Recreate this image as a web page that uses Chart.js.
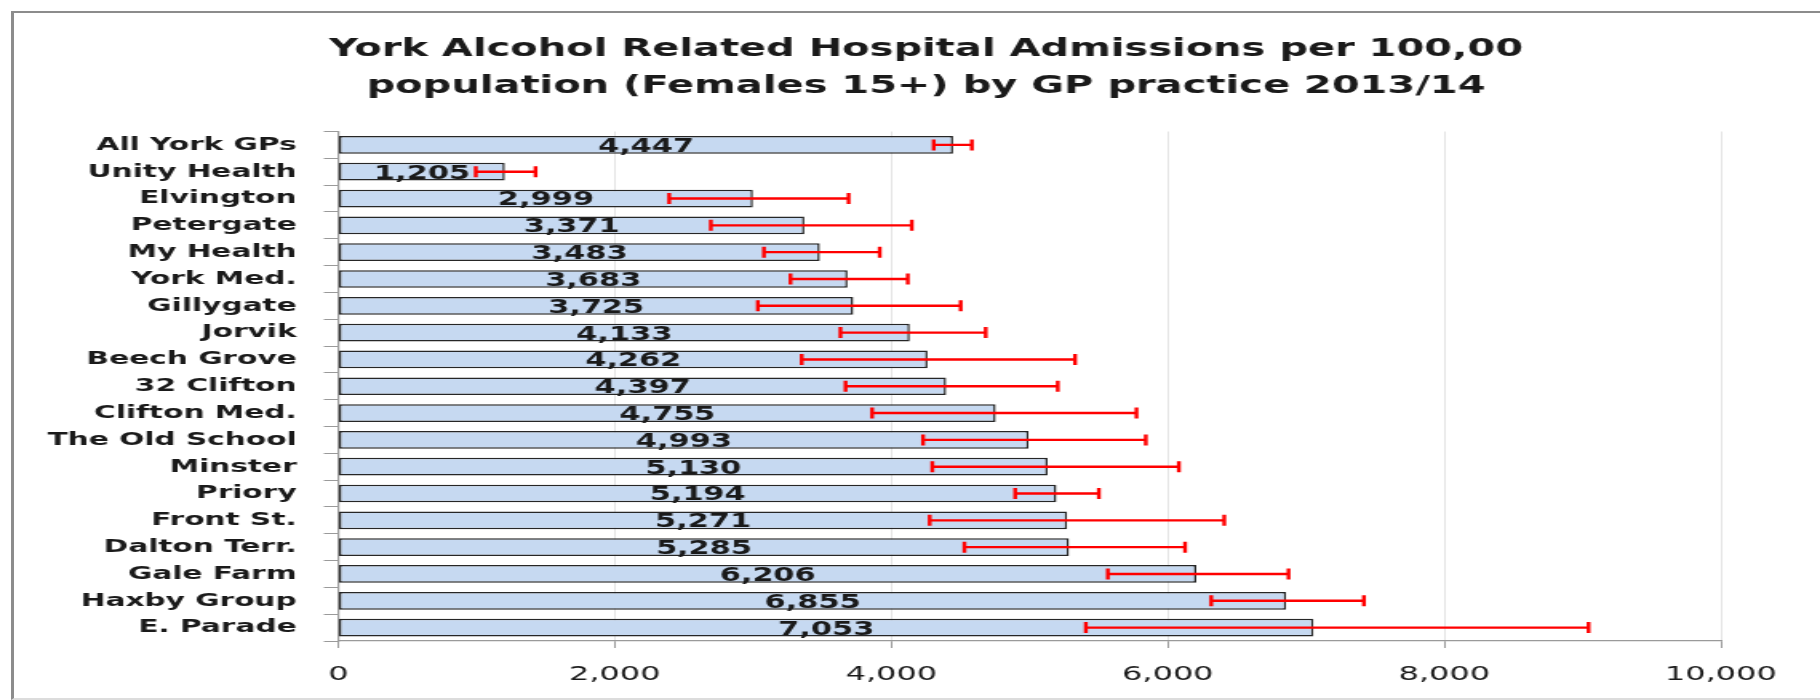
<!DOCTYPE html>
<html>
<head>
<meta charset="utf-8">
<script src="https://cdn.jsdelivr.net/npm/chart.js@4.4.1/dist/chart.umd.min.js"></script>
<style>
  html, body { margin: 0; padding: 0; background: #ffffff; overflow: hidden; width: 1820px; height: 700px; }
  #frame { position: absolute; left: 11px; top: 11px; width: 1900px; height: 685px;
           border-left: 3px solid #8c8c8c; border-top: 2px solid #8c8c8c; border-bottom: 2px solid #dcdcdc; }
  #wrap { position: absolute; left: 0; top: 0; width: 1138px; height: 700px;
          transform: scaleX(1.59930); transform-origin: 0 0; }
</style>
</head>
<body>
<div id="frame"></div>
<div id="wrap"><canvas id="c" width="1138" height="700"></canvas></div>
<script>
const categories = ['All York GPs', 'Unity Health', 'Elvington', 'Petergate', 'My Health', 'York Med.',
  'Gillygate', 'Jorvik', 'Beech Grove', '32 Clifton', 'Clifton Med.', 'The Old School', 'Minster',
  'Priory', 'Front St.', 'Dalton Terr.', 'Gale Farm', 'Haxby Group', 'E. Parade'];
const rates   = [4447, 1205, 2999, 3371, 3483, 3683, 3725, 4133, 4262, 4397, 4755, 4993, 5130, 5194, 5271, 5285, 6206, 6855, 7053];
const ciLower = [4307,  995, 2393, 2695, 3079, 3271, 3035, 3632, 3352, 3669, 3861, 4230, 4297, 4896, 4278, 4529, 5566, 6314, 5407];
const ciUpper = [4583, 1427, 3691, 4148, 3916, 4119, 4502, 4683, 5329, 5204, 5773, 5841, 6080, 5501, 6408, 6125, 6873, 7418, 9043];
const xTicks  = [0, 2000, 4000, 6000, 8000, 10000];
const titleLines = ['York Alcohol Related Hospital Admissions per 100,00', 'population (Females 15+) by GP practice 2013/14'];

const fmt = v => Number(v).toLocaleString('en-US');

// let the category labels extend to the left of the axis box (no clipping)
const labelRoomPlugin = {
  id: 'labelRoom',
  afterLayout(chart) { chart.scales.y.left = 0; }
};

const errorBarPlugin = {
  id: 'errorBars',
  afterDatasetsDraw(chart) {
    const ctx = chart.ctx;
    const xs = chart.scales.x;
    const meta = chart.getDatasetMeta(0);
    ctx.save();
    ctx.strokeStyle = '#ff0000';
    ctx.lineWidth = 2.4;
    meta.data.forEach((bar, i) => {
      const y = bar.y;
      const x1 = xs.getPixelForValue(ciLower[i]);
      const x2 = xs.getPixelForValue(ciUpper[i]);
      ctx.beginPath();
      ctx.moveTo(x1, y); ctx.lineTo(x2, y);
      ctx.moveTo(x1, y - 5.5); ctx.lineTo(x1, y + 5.5);
      ctx.moveTo(x2, y - 5.5); ctx.lineTo(x2, y + 5.5);
      ctx.stroke();
    });
    ctx.restore();
  }
};

const valueLabelPlugin = {
  id: 'valueLabels',
  afterDatasetsDraw(chart) {
    const ctx = chart.ctx;
    const meta = chart.getDatasetMeta(0);
    ctx.save();
    ctx.font = 'bold 19px "DejaVu Sans"';
    ctx.fillStyle = '#1a1a1a';
    ctx.textAlign = 'center';
    ctx.textBaseline = 'middle';
    meta.data.forEach((bar, i) => {
      ctx.fillText(fmt(rates[i]), (bar.x + bar.base) / 2, bar.y + 2);
    });
    ctx.restore();
  }
};

new Chart(document.getElementById('c'), {
  type: 'bar',
  data: {
    labels: categories,
    datasets: [{
      data: rates,
      backgroundColor: '#c6d9f1',
      borderColor: '#262626',
      borderWidth: 1.5,
      borderSkipped: false,
      categoryPercentage: 1,
      barPercentage: 0.66
    }]
  },
  options: {
    indexAxis: 'y',
    responsive: false,
    animation: false,
    devicePixelRatio: 1,
    layout: { padding: { left: 82, right: 62, top: 20, bottom: 13 } },
    plugins: {
      legend: { display: false },
      tooltip: { enabled: false },
      title: {
        display: true,
        text: titleLines,
        color: '#1a1a1a',
        font: { family: '"DejaVu Sans"', size: 25, weight: 'bold', lineHeight: 1.47 },
        padding: { top: 11.6, bottom: 26.4 }
      }
    },
    scales: {
      x: {
        type: 'linear',
        min: xTicks[0],
        max: xTicks[xTicks.length - 1],
        afterBuildTicks: (scale) => { scale.ticks = xTicks.map(v => ({ value: v })); },
        afterFit: (scale) => { scale.height = 46; },
        ticks: {
          callback: v => fmt(v),
          color: '#1a1a1a',
          font: { family: '"DejaVu Sans"', size: 20 },
          padding: 15,
          maxRotation: 0
        },
        grid: { color: '#e4e4e4', lineWidth: 1, tickLength: 7, tickColor: '#9a9a9a' },
        border: { color: '#9a9a9a', width: 1.2 }
      },
      y: {
        type: 'category',
        afterFit: (scale) => { scale.width = 129.5; },
        ticks: {
          color: '#1a1a1a',
          font: { family: '"DejaVu Sans"', size: 18.5, weight: 'bold' },
          padding: 17,
          autoSkip: false
        },
        grid: { offset: true, drawOnChartArea: false, tickLength: 9, color: '#9a9a9a', lineWidth: 1 },
        border: { color: '#9a9a9a', width: 1.2 }
      }
    }
  },
  plugins: [labelRoomPlugin, errorBarPlugin, valueLabelPlugin]
});
</script>
</body>
</html>
